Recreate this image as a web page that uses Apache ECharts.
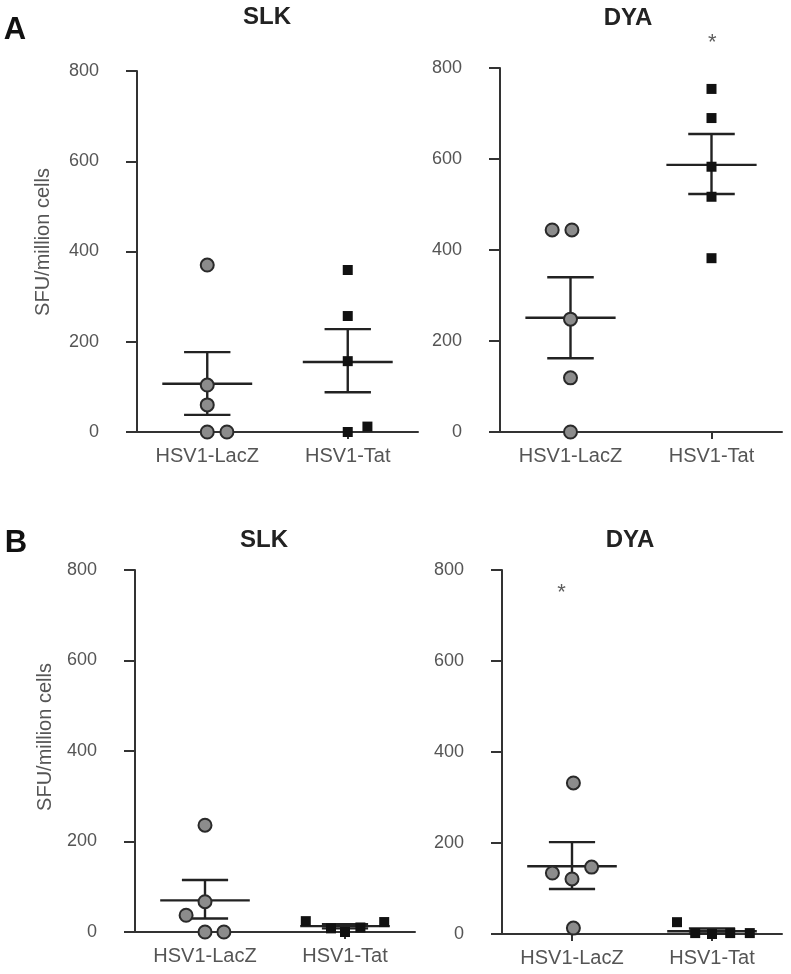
<!DOCTYPE html>
<html>
<head>
<meta charset="utf-8">
<script src="https://cdn.jsdelivr.net/npm/echarts@6/dist/echarts.min.js"></script>
<style>
html,body{margin:0;padding:0;background:#fff;}
#main{width:791px;height:974px;}
</style>
</head>
<body>
<div id="main"></div>
<script>
// ---------- data ----------
const categories = ['HSV1-LacZ', 'HSV1-Tat'];
const yMin = 0, yMax = 800, yStep = 200;
const panelTitles = ['SLK', 'DYA', 'SLK', 'DYA'];
const panelLetters = ['A', 'B'];
const yAxisTitle = 'SFU/million cells';

// Panel A – SLK
const aSlkLacZ = [370, 104, 60, 0, 0];
const aSlkLacZJitter = [0, 0, 0, 0, 0.14];
const aSlkTat = [359, 257, 157, 0, 12];
const aSlkTatJitter = [0, 0, 0, 0, 0.14];
const aSlkStats = [[107, 38, 177], [155, 88, 228]]; // mean, mean-SEM, mean+SEM

// Panel A – DYA
const aDyaLacZ = [444, 444, 248, 119, 0];
const aDyaLacZJitter = [-0.13, 0.01, 0, 0, 0];
const aDyaTat = [754, 690, 583, 517, 382];
const aDyaTatJitter = [0, 0, 0, 0, 0];
const aDyaStats = [[251, 162, 340], [587, 523, 655]];
const aDyaStar = [1, 0.005, 855];   // category, jitter, value

// Panel B – SLK
const bSlkLacZ = [236, 67, 37, 0, 0];
const bSlkLacZJitter = [0, 0, -0.135, 0, 0.135];
const bSlkTat = [24, 8, 0, 10, 22];
const bSlkTatJitter = [-0.28, -0.1, 0, 0.11, 0.28];
const bSlkStats = [[70, 30, 115], [13, 8, 17]];

// Panel B – DYA
const bDyaLacZ = [332, 147, 134, 121, 13];
const bDyaLacZJitter = [0.01, 0.14, -0.14, 0, 0.01];
const bDyaTat = [26, 2, 0, 2, 2];
const bDyaTatJitter = [-0.25, -0.12, 0, 0.13, 0.27];
const bDyaStats = [[149, 99, 202], [6, 1, 12]];
const bDyaStar = [0, -0.075, 749];

// ---------- chart ----------
const panels = [
  {lacz: aSlkLacZ, laczJ: aSlkLacZJitter, tat: aSlkTat, tatJ: aSlkTatJitter, stats: aSlkStats, star: null,
   grid: {left: 137, top: 71, width: 281, height: 361}},
  {lacz: aDyaLacZ, laczJ: aDyaLacZJitter, tat: aDyaTat, tatJ: aDyaTatJitter, stats: aDyaStats, star: aDyaStar,
   grid: {left: 500, top: 68, width: 282, height: 364}},
  {lacz: bSlkLacZ, laczJ: bSlkLacZJitter, tat: bSlkTat, tatJ: bSlkTatJitter, stats: bSlkStats, star: null,
   grid: {left: 135, top: 570, width: 280, height: 362}},
  {lacz: bDyaLacZ, laczJ: bDyaLacZJitter, tat: bDyaTat, tatJ: bDyaTatJitter, stats: bDyaStats, star: bDyaStar,
   grid: {left: 502, top: 570, width: 280, height: 364}}
];

const axisColor = '#333';
const labelColor = '#555';
const fontFam = 'Liberation Sans, Arial, sans-serif';
const grids = [], xAxes = [], yAxes = [], series = [];

panels.forEach((p, i) => {
  grids.push(Object.assign({containLabel: false}, p.grid));
  // visible category axis
  xAxes.push({
    type: 'category', gridIndex: i, data: categories,
    axisLine: {show: true, onZero: false, lineStyle: {color: axisColor, width: 2}},
    axisTick: {show: true, alignWithLabel: true, length: 7, lineStyle: {color: axisColor, width: 2}},
    axisLabel: {color: labelColor, fontSize: 20, fontFamily: fontFam, margin: 14},
    splitLine: {show: false}
  });
  // hidden value axis for dodged points and error bars
  xAxes.push({
    type: 'value', gridIndex: i, min: 0, max: 2, show: false
  });
  yAxes.push({
    type: 'value', gridIndex: i, min: yMin, max: yMax, interval: yStep,
    axisLine: {show: true, lineStyle: {color: axisColor, width: 2}},
    axisTick: {show: true, inside: false, length: 11, lineStyle: {color: axisColor, width: 2}},
    axisLabel: {color: labelColor, fontSize: 18, fontFamily: fontFam, margin: 38},
    splitLine: {show: false}
  });
  const vx = i * 2 + 1;
  // error bars (mean ± SEM)
  series.push({
    type: 'custom', xAxisIndex: vx, yAxisIndex: i, z: 3,
    data: p.stats.map((s, k) => [k + 0.5, s[0], s[1], s[2]]),
    renderItem: function (params, api) {
      const x = api.value(0), m = api.value(1), lo = api.value(2), hi = api.value(3);
      const meanL = api.coord([x - 0.32, m]), meanR = api.coord([x + 0.32, m]);
      const capLoL = api.coord([x - 0.165, lo]), capLoR = api.coord([x + 0.165, lo]);
      const capHiL = api.coord([x - 0.165, hi]), capHiR = api.coord([x + 0.165, hi]);
      const st = {stroke: '#222', lineWidth: 2.4};
      return {type: 'group', children: [
        {type: 'line', shape: {x1: meanL[0], y1: meanL[1], x2: meanR[0], y2: meanR[1]}, style: st},
        {type: 'line', shape: {x1: capLoL[0], y1: capLoL[1], x2: capLoR[0], y2: capLoR[1]}, style: st},
        {type: 'line', shape: {x1: capHiL[0], y1: capHiL[1], x2: capHiR[0], y2: capHiR[1]}, style: st},
        {type: 'line', shape: {x1: (capLoL[0] + capLoR[0]) / 2, y1: capLoL[1], x2: (capHiL[0] + capHiR[0]) / 2, y2: capHiL[1]}, style: st}
      ]};
    }
  });
  // HSV1-LacZ points (grey circles)
  series.push({
    type: 'scatter', xAxisIndex: vx, yAxisIndex: i, z: 4, clip: false,
    symbol: 'circle', symbolSize: 13,
    itemStyle: {color: '#8c8c8c', borderColor: '#2a2a2a', borderWidth: 2, opacity: 1},
    data: p.lacz.map((v, k) => [0.5 + p.laczJ[k], v])
  });
  // HSV1-Tat points (black squares)
  series.push({
    type: 'scatter', xAxisIndex: vx, yAxisIndex: i, z: 4, clip: false,
    symbol: 'rect', symbolSize: 10,
    itemStyle: {color: '#111', opacity: 1},
    data: p.tat.map((v, k) => [1.5 + p.tatJ[k], v])
  });
  if (p.star) {
    series.push({
      type: 'scatter', xAxisIndex: vx, yAxisIndex: i, z: 5, clip: false,
      symbol: 'circle', symbolSize: 1, itemStyle: {color: 'rgba(0,0,0,0)'},
      label: {show: true, position: 'inside', formatter: '*', fontSize: 22, color: '#333', fontFamily: fontFam},
      data: [[p.star[0] + 0.5 + p.star[1], p.star[2]]]
    });
  }
});

const txt = (t, x, y, size, bold, color, rot) => ({
  type: 'text', x: x, y: y, rotation: rot || 0,
  style: {text: t, fontSize: size, fontWeight: bold ? 'bold' : 'normal', fill: color,
    fontFamily: fontFam, textAlign: 'center', textVerticalAlign: 'middle'}
});

const option = {
  backgroundColor: '#fff',
  animation: false,
  grid: grids,
  xAxis: xAxes,
  yAxis: yAxes,
  series: series,
  graphic: [
    txt(panelLetters[0], 15, 30, 31, true, '#111'),
    txt(panelLetters[1], 16, 543, 31, true, '#111'),
    txt(panelTitles[0], 267, 17, 24, true, '#222'),
    txt(panelTitles[1], 628, 18, 24, true, '#222'),
    txt(panelTitles[2], 264, 540, 24, true, '#222'),
    txt(panelTitles[3], 630, 540, 24, true, '#222'),
    txt(yAxisTitle, 43, 242, 20, false, labelColor, Math.PI / 2),
    txt(yAxisTitle, 45, 737, 20, false, labelColor, Math.PI / 2)
  ]
};

const chart = echarts.init(document.getElementById('main'), null, {renderer: 'canvas'});
chart.setOption(option);
</script>
</body>
</html>
